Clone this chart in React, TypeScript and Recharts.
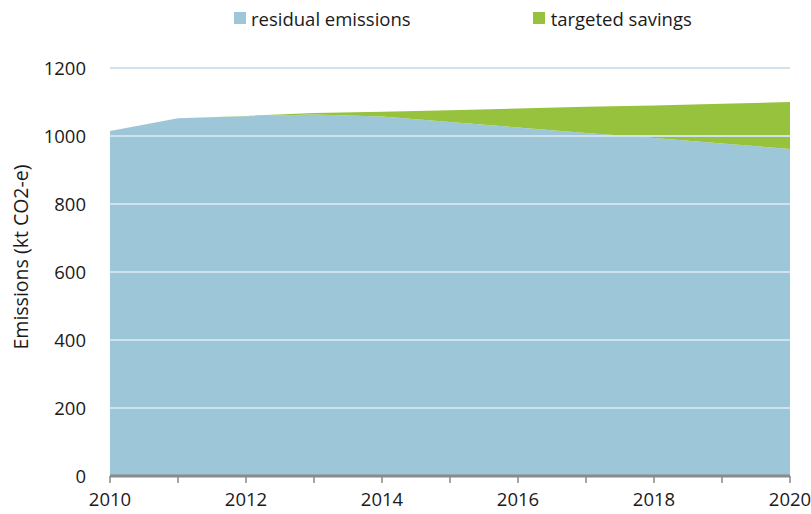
import React from 'react';
import { AreaChart, Area, XAxis, YAxis, Legend, ReferenceLine } from 'recharts';

const YEARS = [2010, 2011, 2012, 2013, 2014, 2015, 2016, 2017, 2018, 2019, 2020];
const RESIDUAL = [1015, 1052, 1058, 1063, 1057, 1041, 1025, 1009, 994, 978, 962];
const SAVINGS = [0, 0, 1, 5, 14, 35, 56, 77, 96, 117, 138];
const Y_TICKS = [0, 200, 400, 600, 800, 1000, 1200];
const GRID_LINES = [200, 400, 600, 800, 1000, 1200];

const BLUE = '#9dc6d8';
const GREEN = '#96c23e';
const FONT = '"Open Sans", sans-serif';

const data = YEARS.map((year, i) => ({ year, residual: RESIDUAL[i], savings: SAVINGS[i] }));

const LegendContent = () => (
  <div style={{ height: 28, display: 'flex', alignItems: 'center', fontFamily: FONT, fontSize: 18.5, color: '#1a1a1a' }}>
    <span style={{ width: 12, height: 12, background: BLUE, marginLeft: 234, marginRight: 5 }} />
    <span>residual emissions</span>
    <span style={{ width: 12, height: 12, background: GREEN, marginLeft: 122, marginRight: 6 }} />
    <span>targeted savings</span>
  </div>
);

const YLabel = ({ viewBox }: any) => {
  const cy = viewBox.y + viewBox.height / 2 - 15;
  return (
    <text
      x={20}
      y={cy}
      transform={`rotate(-90, 20, ${cy})`}
      textAnchor="middle"
      dominantBaseline="central"
      style={{ fontFamily: FONT, fontSize: 19.5, fill: '#1a1a1a' }}
    >
      Emissions (kt CO2-e)
    </text>
  );
};

export default function App() {
  return (
    <div style={{ position: 'absolute', left: 0, top: 0, width: 811, height: 514, background: '#fff' }}>
      <AreaChart width={811} height={514} data={data} margin={{ top: 40, right: 21, left: 50, bottom: 0 }}>
        <Legend verticalAlign="top" content={<LegendContent />} wrapperStyle={{ left: 0, top: 4, width: 811 }} />
        <XAxis
          dataKey="year"
          type="number"
          domain={[2010, 2020]}
          ticks={YEARS}
          tickFormatter={(v: number) => (v % 2 === 0 ? String(v) : '')}
          axisLine={{ stroke: '#8a8a8a', strokeWidth: 3 }}
          tickLine={{ stroke: '#8a8a8a', strokeWidth: 1.5 }}
          tickSize={7}
          tickMargin={10}
          tick={{ fontFamily: FONT, fontSize: 18.5, fill: '#1a1a1a' }}
          height={38}
        />
        <YAxis
          domain={[0, 1200]}
          ticks={Y_TICKS}
          axisLine={false}
          tickLine={false}
          tickMargin={18}
          width={60}
          tick={{ fontFamily: FONT, fontSize: 18.5, fill: '#1a1a1a' }}
          label={<YLabel />}
        />
        <Area type="linear" dataKey="residual" stackId="1" stroke="none" fill={BLUE} fillOpacity={1} isAnimationActive={false} />
        <Area type="linear" dataKey="savings" stackId="1" stroke="none" fill={GREEN} fillOpacity={1} isAnimationActive={false} />
        {GRID_LINES.map((v) => (
          <ReferenceLine key={v} y={v} stroke="#cfe2ee" strokeWidth={2} />
        ))}
      </AreaChart>
    </div>
  );
}
